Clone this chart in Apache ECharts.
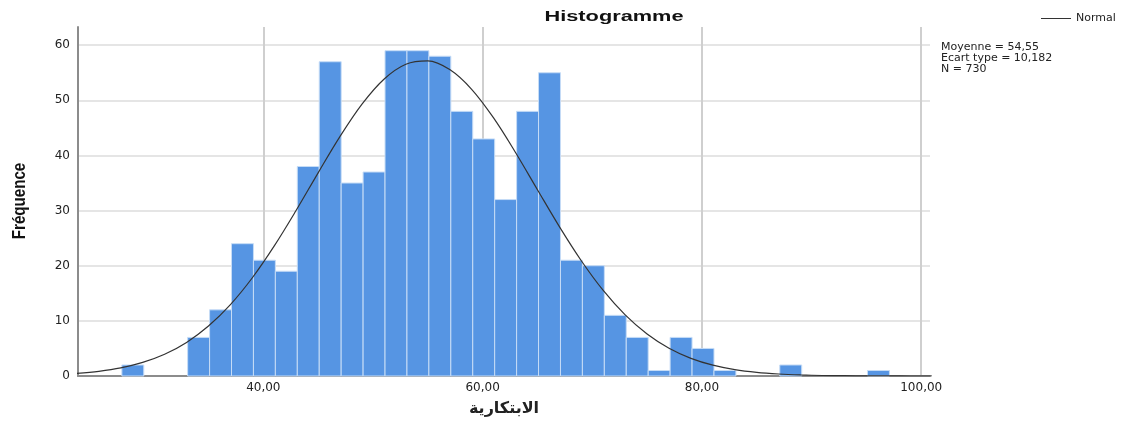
<!DOCTYPE html>
<html>
<head>
<meta charset="utf-8">
<script src="https://cdn.jsdelivr.net/npm/echarts@6/dist/echarts.min.js"></script>
<style>html,body{margin:0;padding:0;background:#fff}#c{width:1122px;height:421px}</style>
</head>
<body>
<div id="c"></div>
<script>
// ---- data ----
const binWidth = 2;
const binStart = [27.1,29.1,31.1,33.1,35.1,37.1,39.1,41.1,43.1,45.1,47.1,49.1,51.1,53.1,55.1,57.1,59.1,61.1,63.1,65.1,67.1,69.1,71.1,73.1,75.1,77.1,79.1,81.1,83.1,85.1,87.1,89.1,91.1,93.1,95.1];
const frequency = [2,0,0,7,12,24,21,19,38,57,35,37,59,59,58,48,43,32,48,55,21,20,11,7,1,7,5,1,0,0,2,0,0,0,1];
const curveX = [23,25,27,29,31,33,35,37,39,41,43,45,47,49,51,53,55,57,59,61,63,65,67,69,71,73,75,77,79,81,83,85,87,89,91,93,95,97,99,101];
const curveY = [0.47,0.85,1.47,2.46,3.94,6.09,9.06,12.95,17.82,23.60,30.06,36.85,43.46,49.31,53.83,56.55,57.15,55.57,52.00,46.81,40.54,33.79,27.09,20.90,15.51,11.08,7.61,5.03,3.20,1.96,1.15,0.65,0.36,0.19,0.09,0.05,0.02,0.01,0.004,0.002];
const xTickLabels = ['40,00','60,00','80,00','100,00'];
const meanText = '54,55';
const sdText = '10,182';
const nText = '730';
const titleText = 'Histogramme';
const yName = 'Fréquence';
const xName = 'الابتكارية';
const legendName = 'Normal';

const chart = echarts.init(document.getElementById('c'), null, {renderer: 'canvas'});
const histData = binStart.map((s, i) => [s, frequency[i]]);
const curveData = curveX.map((x, i) => [x, curveY[i]]);

chart.setOption({
  animation: false,
  backgroundColor: '#ffffff',
  textStyle: {fontFamily: 'DejaVu Sans'},
  grid: {left: 78, right: 192, top: 27, bottom: 45, containLabel: false, outerBoundsMode: 'none'},
  legend: {
    data: [{name: legendName, icon: 'rect'}],
    left: 1036, top: 8,
    itemWidth: 30, itemHeight: 1, itemGap: 4,
    itemStyle: {color: '#333333'},
    textStyle: {fontFamily: 'DejaVu Sans', fontSize: 11, color: '#222', padding: [0, 0, 0, 0]}
  },
  xAxis: {
    type: 'value', min: 23.1, max: 100.8, splitNumber: 4,
    name: xName, nameLocation: 'middle', nameGap: 25,
    nameTextStyle: {fontFamily: 'DejaVu Sans', fontSize: 16, fontWeight: 'bold', color: '#222'},
    axisLine: {show: true, lineStyle: {color: '#8c8c8c', width: 2}},
    axisTick: {show: false},
    axisLabel: {
      showMinLabel: false, showMaxLabel: false, margin: 6,
      fontFamily: 'DejaVu Sans', fontSize: 12, color: '#222',
      formatter: v => { const s = v.toFixed(2).replace('.', ','); return xTickLabels.indexOf(s) >= 0 ? s : ''; }
    },
    splitLine: {show: true, showMinLine: false, showMaxLine: false, lineStyle: {color: '#cfcfcf', width: 2}}
  },
  yAxis: {
    type: 'value', min: 0, max: 63.3, interval: 10,
    axisLine: {show: true, lineStyle: {color: '#8c8c8c', width: 2}},
    axisTick: {show: false},
    axisLabel: {showMaxLabel: false, margin: 8, fontFamily: 'DejaVu Sans', fontSize: 12, color: '#222'},
    splitLine: {show: true, showMaxLine: false, lineStyle: {color: '#dcdcdc', width: 1.5}}
  },
  series: [
    {
      type: 'custom',
      name: 'hist',
      data: histData,
      encode: {x: 0, y: 1},
      z: 2,
      renderItem: function (params, api) {
        const x0 = api.value(0), y = api.value(1);
        if (!y) return null;
        const p0 = api.coord([x0, y]);
        const p1 = api.coord([x0 + binWidth, 0]);
        return {
          type: 'rect',
          shape: {x: p0[0], y: p0[1], width: p1[0] - p0[0], height: p1[1] - p0[1]},
          style: {fill: '#5695e3', stroke: '#c6dcf6', lineWidth: 1}
        };
      }
    },
    {
      type: 'line',
      name: legendName,
      data: curveData,
      smooth: 0.35,
      symbol: 'none',
      clip: true,
      z: 5,
      color: '#333333',
      lineStyle: {color: '#333333', width: 1.2}
    }
  ],
  graphic: [
    {
      type: 'text', x: 614, y: 17, scaleX: 1.45, z: 10,
      style: {text: titleText, fontFamily: 'Liberation Sans', fontWeight: 'bold', fontSize: 15, fill: '#111', align: 'center', verticalAlign: 'middle'}
    },
    {
      type: 'text', x: 20, y: 201, rotation: Math.PI / 2, scaleX: 0.84, z: 10,
      style: {text: yName, fontFamily: 'Liberation Sans', fontWeight: 'bold', fontSize: 18, fill: '#111', align: 'center', verticalAlign: 'middle'}
    },
    {
      type: 'text', x: 941, y: 42, z: 10,
      style: {
        text: 'Moyenne = ' + meanText + '\nEcart type = ' + sdText + '\nN = ' + nText,
        fontFamily: 'DejaVu Sans', fontSize: 11, lineHeight: 11, fill: '#222', align: 'left', verticalAlign: 'top'
      }
    }
  ]
});
</script>
</body>
</html>
